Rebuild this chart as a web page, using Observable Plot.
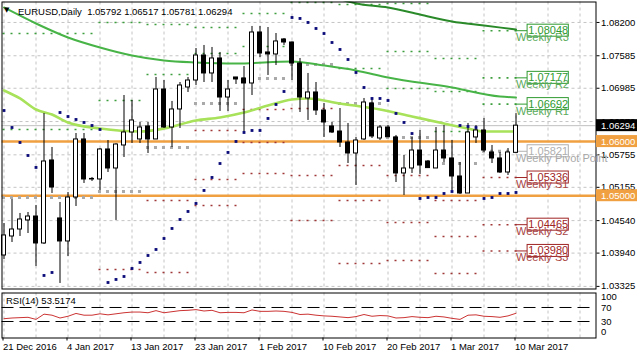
<!DOCTYPE html>
<html><head><meta charset="utf-8">
<script src="https://cdn.jsdelivr.net/npm/d3@7"></script>
<script src="https://cdn.jsdelivr.net/npm/@observablehq/plot@0.6"></script>
<style>
body{margin:0;background:#fff;}
#wrap{position:relative;width:637px;height:358px;overflow:hidden;font-family:"Liberation Sans",Arial,sans-serif;background:#fff;}
#main,#rsi{position:absolute;left:0;}
#main{top:0;} #rsi{top:290px;}
.lbl{position:absolute;font-size:9.5px;line-height:11px;white-space:pre;color:#000;}
</style></head><body>
<div id="wrap"><div id="main"></div><div id="rsi"></div>
<div class="lbl" style="left:4px;top:5px;font-family:'DejaVu Sans';font-size:7px">▼</div>
<div class="lbl" id="title" style="left:18px;top:5.5px"></div>
<div class="lbl" id="rsilbl" style="left:6px;top:294.5px"></div>
</div>
<script>
const symbolName = "EURUSD,Daily";
const tickBars = [0,8,16,24,32,40,48,56,64];
const dateLabels = ["21 Dec 2016","4 Jan 2017","13 Jan 2017","23 Jan 2017","1 Feb 2017","10 Feb 2017","20 Feb 2017","1 Mar 2017","10 Mar 2017"];
const open  = [1.03896,1.04247,1.04376,1.04543,1.04616,1.04118,1.05651,1.04580,1.04155,1.04967,
               1.06039,1.05300,1.05300,1.05854,1.05503,1.05928,1.06168,1.06039,1.06279,1.06039,
               1.06962,1.06260,1.06593,1.06999,1.07128,1.07590,1.07258,1.07535,1.06814,1.07184,
               1.07165,1.07073,1.08015,1.07646,1.07609,1.07886,1.07830,1.07442,1.06796,1.06907,
               1.06574,1.06279,1.06186,1.05983,1.05780,1.06039,1.06704,1.06057,1.06260,1.06076,
               1.05411,1.05503,1.05835,1.05632,1.05503,1.05835,1.05688,1.05355,1.05041,1.06076,
               1.06205,1.05799,1.05688,1.05429,1.05792];
const high  = [1.04487,1.04930,1.04672,1.04690,1.04820,1.06519,1.05891,1.04875,1.05060,1.06149,
               1.06149,1.05337,1.05872,1.06020,1.05960,1.06851,1.06759,1.06353,1.06353,1.07184,
               1.07128,1.06741,1.07091,1.07184,1.07719,1.07775,1.07738,1.07646,1.07128,1.07184,
               1.07387,1.08126,1.08126,1.08107,1.07996,1.07904,1.07840,1.07535,1.07258,1.07091,
               1.06704,1.06353,1.06611,1.06334,1.06076,1.06796,1.06796,1.06297,1.06297,1.06113,
               1.05743,1.06076,1.06205,1.05651,1.06260,1.06297,1.06020,1.05614,1.06334,1.06297,
               1.06427,1.05928,1.05799,1.05872,1.06517];
const low   = [1.03822,1.04136,1.04247,1.04302,1.03693,1.04100,1.05041,1.03379,1.03878,1.04801,
               1.05226,1.05263,1.05097,1.05429,1.04543,1.05706,1.05965,1.05965,1.05780,1.06039,
               1.06242,1.05891,1.06242,1.06907,1.07036,1.07091,1.07091,1.06556,1.06556,1.07055,
               1.06168,1.06851,1.07553,1.07221,1.07405,1.07775,1.07128,1.06537,1.06390,1.06482,
               1.06076,1.06149,1.05891,1.05595,1.05189,1.06020,1.06057,1.06020,1.06076,1.05244,
               1.05004,1.05411,1.05392,1.05503,1.05503,1.05614,1.05097,1.05023,1.05041,1.05965,
               1.05799,1.05595,1.05411,1.05374,1.05781];
const close = [1.04266,1.04376,1.04561,1.04616,1.04118,1.05632,1.05152,1.04155,1.04967,1.06039,
               1.05300,1.05310,1.05854,1.05503,1.05946,1.06168,1.06390,1.06260,1.06039,1.06962,
               1.06260,1.06593,1.07036,1.07128,1.07590,1.07258,1.07535,1.06814,1.06962,1.07147,
               1.07073,1.08015,1.07627,1.07609,1.07849,1.07830,1.07442,1.06814,1.06907,1.06574,
               1.06353,1.06168,1.05983,1.05780,1.06020,1.06722,1.06094,1.06260,1.06080,1.05411,
               1.05503,1.05835,1.05558,1.05510,1.05835,1.05688,1.05355,1.05041,1.06168,1.06205,
               1.05835,1.05688,1.05429,1.05799,1.06294];
const sar   = [1.06574,1.06260,1.05983,1.05743,1.05522,1.03527,1.03582,1.06537,1.06463,1.06408,
               1.06353,1.06297,1.06223,1.03397,1.03453,1.03508,1.03656,1.03767,1.03896,1.04007,
               1.04210,1.04395,1.04561,1.04709,1.04857,1.05097,1.05337,1.05595,1.05799,1.06002,
               1.06168,1.06205,1.06205,1.06427,1.06685,1.06925,1.08292,1.08274,1.08200,1.08089,
               1.07996,1.07830,1.07701,1.07516,1.07276,1.06999,1.06796,1.06796,1.06759,1.06519,
               1.06353,1.06149,1.04949,1.04967,1.04967,1.05041,1.05078,1.06297,1.06279,1.06260,
               1.04949,1.04967,1.05041,1.05041,1.05060];
const rsi   = [38,40,41,42,36,51,48,40,45,53,
               48,48,52,49,52,55,57,57,55,61,
               55,58,61,62,64,60,62,55,56,56,
               55,63,59,59,60,59,56,50,51,48,
               46,45,43,41,44,50,45,47,46,40,
               41,44,42,41,45,43,39,36,48,49,
               45,44,42,46,53.5174];
const maFastBar = [0,2,4,6,8,12,17,20,24,27,30,33,36,38,42,47,51,55,58,60,64];
const maFast    = [1.06944,1.06796,1.06593,1.06500,1.06353,1.06242,1.06186,1.06242,1.06390,1.06445,1.06537,1.06667,1.06777,1.06796,1.06704,1.06593,1.06463,1.06334,1.06242,1.06186,1.06186];
const maMidBar  = [0,4,8,12,16,20,24,29,36,40,44,48,56,62,64];
const maMid     = [1.08477,1.08181,1.07923,1.07738,1.07590,1.07498,1.07461,1.07442,1.07479,1.07405,1.07313,1.07184,1.06999,1.06833,1.06814];
const maSlowBar = [36,40,44,48,52,56,60,64];
const maSlow    = [1.08850,1.08717,1.08551,1.08477,1.08347,1.08218,1.08144,1.08070];
const weekFirstBar = [0,12,18,24,30,36,42,48,54,60];
const weekLastBar  = [11,17,23,29,35,41,47,53,59,64];
const pivotR3 = [null,null,null,null,null,null,null,1.08551,1.07535,1.08048];
const pivotR2 = [1.07996,1.08200,1.08163,1.08107,1.08366,null,1.08532,1.07664,1.06925,1.07177];
const pivotR1 = [1.06223,1.06759,1.07239,1.07627,1.07756,1.08569,1.07350,1.06981,1.06186,1.06692];
const pivotP  = [1.04967,1.05078,1.05891,1.06704,1.07165,1.07424,1.06704,1.06076,1.05595,1.05821];
const pivotS1 = [null,1.03638,1.04912,1.06205,1.06593,1.06611,1.05558,1.05374,1.04912,1.05336];
const pivotS2 = [null,null,1.03582,1.05300,1.05983,1.05374,1.04912,1.04506,1.04247,1.04465];
const pivotS3 = [null,null,null,1.04820,1.05411,1.04543,1.03748,1.03804,1.03564,1.03980];
const priceTicks = [1.08200,1.07585,1.06985,1.06370,1.05755,1.05155,1.04540,1.03940,1.03325];
const roundLevels = [1.06000,1.05000];
const bidPrice = 1.06294;
const rsiLevels = [30,70];
const rsiTicks = [0,30,70,100];

const N = open.length, last = N-1;
const bars = d3.range(N).map(i => ({i, o: open[i], h: high[i], l: low[i], c: close[i]}));
const xMax = 74, xDom = [-0.25, xMax];
const yDom = [1.03277, 1.08578];
const pp = (yDom[1]-yDom[0])/287;
const gridBars = d3.range(0, xMax, 4);
const col = {R:"#3c9e3c", P:"#a9a9a9", S:"#a03838"};
const boxCol = {R:"#2f9a2f", P:"#b0b0b0", S:"#a02424"};
const nameCol = {R:"#5aaa5a", P:"#a8a8a8", S:"#a84444"};
const levelDefs = [
  {arr: pivotR3, kind:"R", name:"Weekly R3"},
  {arr: pivotR2, kind:"R", name:"Weekly R2"},
  {arr: pivotR1, kind:"R", name:"Weekly R1"},
  {arr: pivotP,  kind:"P", name:"Weekly Pivot Point"},
  {arr: pivotS1, kind:"S", name:"Weekly S1"},
  {arr: pivotS2, kind:"S", name:"Weekly S2"},
  {arr: pivotS3, kind:"S", name:"Weekly S3"}];
const segs = [];
levelDefs.forEach(L => L.arr.forEach((v,w) => { if (v != null) segs.push({kind:L.kind, v, a: weekFirstBar[w], b: weekLastBar[w]}); }));
const cur = levelDefs.map(L => ({kind:L.kind, name:L.name, v: L.arr[L.arr.length-1]}));
const tags = [{v: roundLevels[0], bg:"#f0a040"}, {v: roundLevels[1], bg:"#f0a040"}, {v: bidPrice, bg:"#000000"}];
const toPts = (bs, vs) => bs.map((b,k) => ({b, v: vs[k]}));

const main = Plot.plot({
  width: 637, height: 290, marginLeft: 1.5, marginRight: 41.5, marginTop: 1.5, marginBottom: 1.5,
  x: {domain: xDom, axis: null, label: null},
  y: {domain: yDom, axis: null, label: null},
  color: {type: "identity"},
  style: {fontFamily: "Liberation Sans, Arial, sans-serif", fontSize: "9.5px", background: "white", overflow: "visible"},
  marks: [
    Plot.ruleX(gridBars, {x: d => d, stroke: "#c4c4c4", strokeDasharray: "3,3"}),
    Plot.ruleY(priceTicks, {y: d => d, stroke: "#c4c4c4", strokeDasharray: "3,3"}),
    Plot.ruleY([bidPrice], {y: d => d, stroke: "#c0c0c0"}),
    Plot.ruleY(roundLevels, {y: d => d, stroke: "#f0a040", strokeWidth: 2.6}),
    Plot.ruleY(segs.filter(d => d.kind !== "P"), {y: "v", x1: d => d.a - 0.125, x2: d => d.b + 0.2, stroke: d => col[d.kind], strokeWidth: 1.6, strokeDasharray: "2,6"}),
    Plot.ruleY(segs.filter(d => d.kind === "P"), {y: "v", x1: d => d.a - 0.19, x2: d => d.b + 0.2, stroke: col.P, strokeWidth: 3, strokeDasharray: "3,5"}),
    Plot.ruleY(cur, {y: "v", x1: last, x2: last + 1.45, stroke: d => boxCol[d.kind]}),
    Plot.line(toPts(maSlowBar, maSlow), {x: "b", y: "v", stroke: "#2a8a2a", strokeWidth: 2, curve: "monotone-x", clip: true}),
    Plot.line(toPts(maMidBar, maMid), {x: "b", y: "v", stroke: "#48b448", strokeWidth: 2, curve: "monotone-x", clip: true}),
    Plot.line(toPts(maFastBar, maFast), {x: "b", y: "v", stroke: "#a8e25a", strokeWidth: 2.6, curve: "monotone-x", clip: true}),
    Plot.ruleX(bars, {x: "i", y1: "l", y2: "h", stroke: "black"}),
    Plot.rect(bars, {x1: d => d.i - 0.25, x2: d => d.i + 0.25, y1: "o", y2: "c", fill: d => d.c >= d.o ? "white" : "black", stroke: "black"}),
    Plot.dot(sar.map((v,i) => ({i, v})), {x: "i", y: "v", symbol: "square", r: 1.6, fill: "#0b0b7a", stroke: null}),
    Plot.frame({stroke: "black"}),
    Plot.axisY(priceTicks, {anchor: "right", tickSize: 3, tickPadding: 2, tickFormat: d => d.toFixed(5), textAnchor: "start", label: null}),
    Plot.rect(tags, {x1: xMax + 0.06, x2: xMax + 5.3, y1: d => d.v - 6*pp, y2: d => d.v + 6*pp, fill: "bg"}),
    Plot.text(tags, {x: xMax, y: "v", text: d => d.v.toFixed(5), dx: 5, textAnchor: "start", fill: "white"}),
    Plot.rect(cur, {x1: last + 1.45, x2: last + 6.6, y1: d => d.v - 6*pp, y2: d => d.v + 6*pp, fill: "white", stroke: d => boxCol[d.kind]}),
    Plot.text(cur, {x: last, y: "v", dy: 7, text: "name", textAnchor: "start", fill: d => nameCol[d.kind], fontSize: 11}),
    Plot.text(cur, {x: last + 4.03, y: "v", text: d => d.v.toFixed(5), fill: d => boxCol[d.kind], fontSize: 11})
  ]
});
document.getElementById("main").appendChild(main);

const labelMap = new Map(tickBars.map((b,k) => [b, dateLabels[k]]));
const rsiPlot = Plot.plot({
  width: 637, height: 68, marginLeft: 1.5, marginRight: 41.5, marginTop: 2.5, marginBottom: 20.5,
  x: {domain: xDom, axis: null, label: null},
  y: {domain: [-17.1, 111.4], axis: null, label: null},
  style: {fontFamily: "Liberation Sans, Arial, sans-serif", fontSize: "9.5px", background: "white", overflow: "visible"},
  marks: [
    Plot.ruleX(gridBars, {x: d => d, stroke: "#c4c4c4", strokeDasharray: "3,3"}),
    Plot.ruleY(rsiLevels, {y: d => d, stroke: "black", strokeDasharray: "12,6"}),
    Plot.line(rsi.map((v,i) => ({i, v})), {x: "i", y: "v", stroke: "#cc3333", strokeWidth: 1}),
    Plot.frame({stroke: "black"}),
    Plot.axisY(rsiTicks, {anchor: "right", tickSize: 0, tickPadding: 5, textAnchor: "start", label: null}),
    Plot.axisX(tickBars, {anchor: "bottom", tickSize: 3, tickPadding: 2, tickFormat: d => labelMap.get(d), textAnchor: "start", dx: -1, label: null})
  ]
});
document.getElementById("rsi").appendChild(rsiPlot);

document.getElementById("title").textContent = symbolName + "  " + [open[last], high[last], low[last], close[last]].map(v => v.toFixed(5)).join(" ");
document.getElementById("rsilbl").textContent = "RSI(14) " + rsi[last].toFixed(4);
</script>
</body></html>
